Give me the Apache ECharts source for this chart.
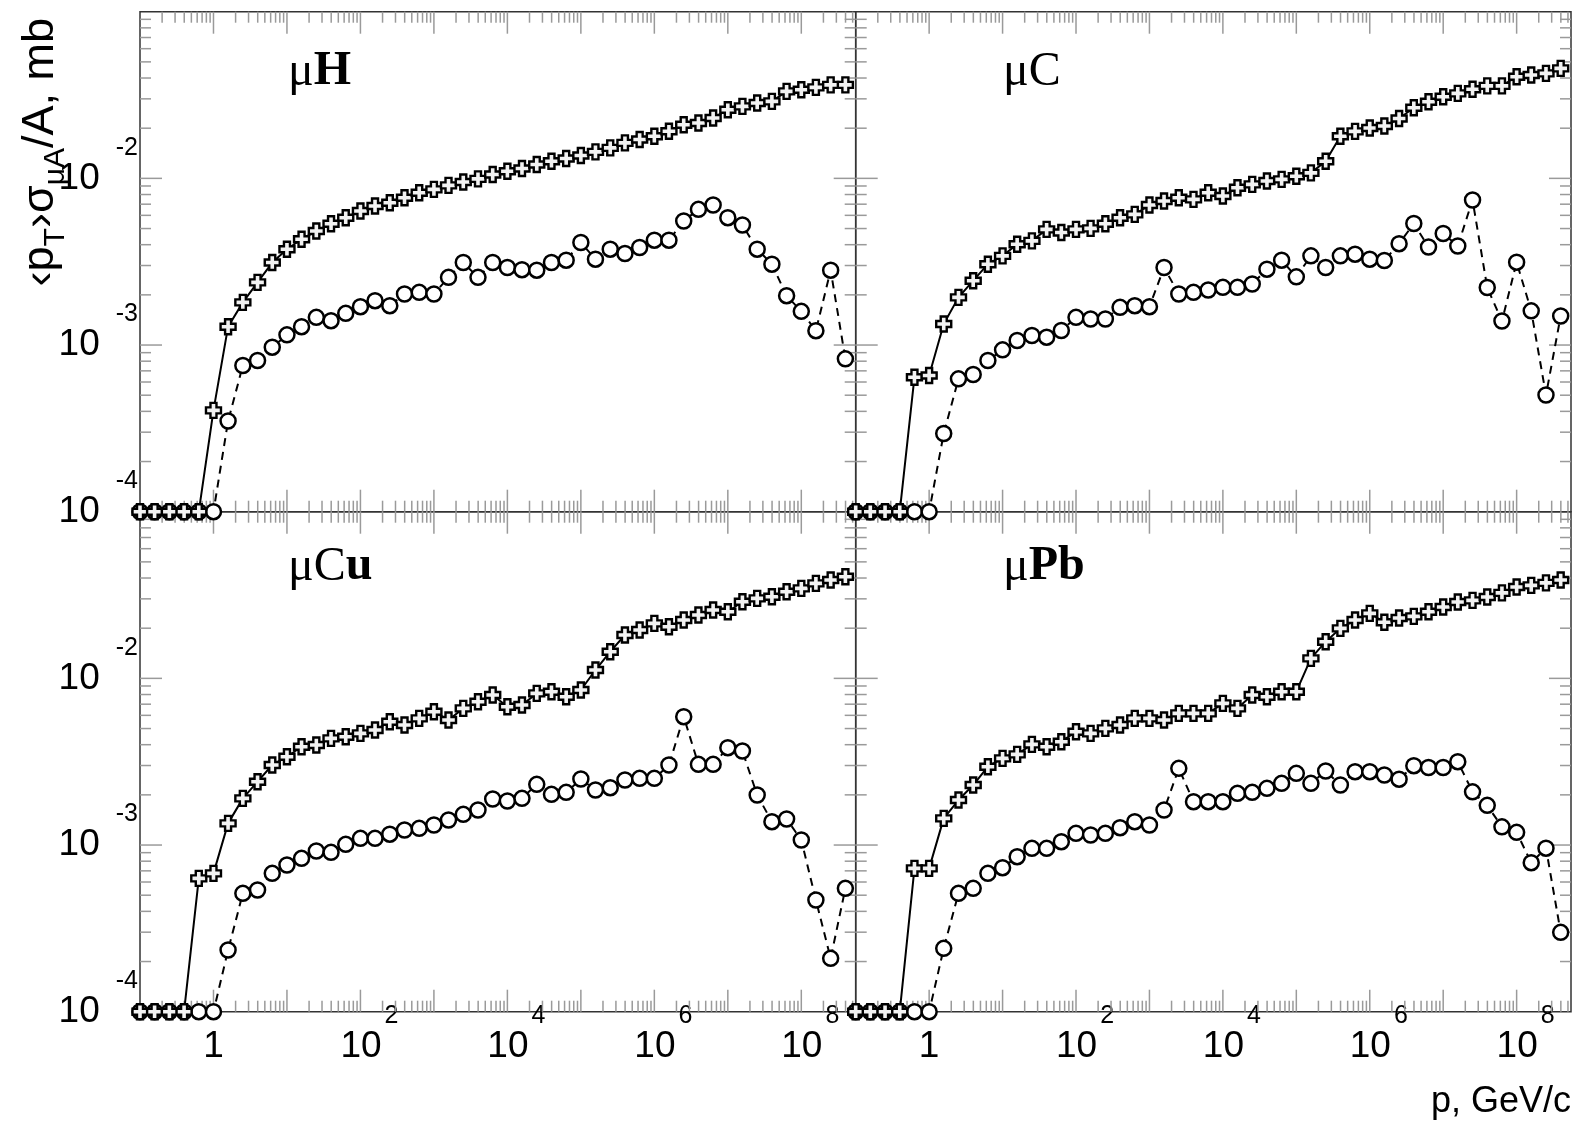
<!DOCTYPE html>
<html>
<head>
<meta charset="utf-8">
<script src="https://cdn.jsdelivr.net/npm/echarts@6/dist/echarts.min.js"></script>
<style>
html,body{margin:0;padding:0;background:#fff;}
#chart{width:1576px;height:1128px;}
</style>
</head>
<body>
<div id="chart"></div>
<script>
// momentum grid, GeV/c (5 points per decade)
const P = [0.1,0.158,0.251,0.398,0.631, 1,1.58,2.51,3.98,6.31, 10,15.8,25.1,39.8,63.1,
  100,158,251,398,631, 1e3,1.58e3,2.51e3,3.98e3,6.31e3, 1e4,1.58e4,2.51e4,3.98e4,6.31e4,
  1e5,1.58e5,2.51e5,3.98e5,6.31e5, 1e6,1.58e6,2.51e6,3.98e6,6.31e6, 1e7,1.58e7,2.51e7,3.98e7,6.31e7,
  1e8,1.58e8,2.51e8,3.98e8];

// log10 of <pT> sigma / A (mb); -4 = drawn on the lower edge
const muH_cross = [-4,-4,-4,-4,-4, -3.392,-2.890,-2.744,-2.624,-2.505,-2.425,-2.365,-2.316,-2.272,-2.236,-2.196,-2.166,-2.146,-2.116,-2.086,-2.066,-2.042,-2.022,-2.003,-1.977,-1.957,-1.941,-1.917,-1.897,-1.881,-1.863,-1.841,-1.817,-1.787,-1.767,-1.747,-1.717,-1.678,-1.668,-1.638,-1.588,-1.568,-1.548,-1.538,-1.478,-1.468,-1.454,-1.439,-1.439];
const muH_circle = [-4,-4,-4,-4,-4,-4, -3.456,-3.123,-3.093,-3.013,-2.939,-2.890,-2.834,-2.854,-2.810,-2.770,-2.734,-2.764,-2.694,-2.684,-2.694,-2.594,-2.505,-2.594,-2.505,-2.535,-2.548,-2.551,-2.505,-2.491,-2.385,-2.485,-2.425,-2.451,-2.415,-2.371,-2.371,-2.256,-2.186,-2.160,-2.236,-2.280,-2.425,-2.515,-2.704,-2.798,-2.914,-2.551,-3.083];
const muC_cross = [-4,-4,-4,-4, -3.193,-3.183,-2.874,-2.714,-2.614,-2.515,-2.465,-2.395,-2.375,-2.306,-2.325,-2.306,-2.300,-2.272,-2.236,-2.216,-2.160,-2.136,-2.116,-2.126,-2.086,-2.106,-2.056,-2.036,-2.016,-2.006,-1.987,-1.967,-1.897,-1.747,-1.718,-1.698,-1.686,-1.641,-1.576,-1.540,-1.510,-1.490,-1.465,-1.445,-1.445,-1.390,-1.380,-1.370,-1.340];
const muC_circle = [-4,-4,-4,-4,-4,-4, -3.531,-3.203,-3.177,-3.093,-3.029,-2.973,-2.943,-2.953,-2.913,-2.834,-2.844,-2.844,-2.774,-2.764,-2.770,-2.535,-2.694,-2.684,-2.670,-2.654,-2.654,-2.634,-2.545,-2.491,-2.591,-2.465,-2.535,-2.465,-2.455,-2.485,-2.493,-2.392,-2.271,-2.412,-2.331,-2.406,-2.130,-2.655,-2.856,-2.503,-2.795,-3.300,-2.826];
const muCu_cross = [-4,-4,-4,-4, -3.200,-3.170,-2.870,-2.720,-2.620,-2.520,-2.470,-2.410,-2.400,-2.360,-2.350,-2.330,-2.310,-2.260,-2.280,-2.240,-2.200,-2.250,-2.180,-2.140,-2.100,-2.170,-2.160,-2.090,-2.080,-2.110,-2.070,-1.950,-1.840,-1.740,-1.710,-1.670,-1.690,-1.650,-1.620,-1.590,-1.600,-1.540,-1.520,-1.510,-1.480,-1.460,-1.430,-1.410,-1.390];
const muCu_circle = [-4,-4,-4,-4,-4,-4, -3.630,-3.290,-3.270,-3.170,-3.120,-3.080,-3.036,-3.044,-2.996,-2.960,-2.960,-2.935,-2.910,-2.900,-2.880,-2.850,-2.816,-2.790,-2.724,-2.736,-2.720,-2.636,-2.696,-2.684,-2.604,-2.670,-2.656,-2.610,-2.600,-2.600,-2.520,-2.230,-2.516,-2.516,-2.416,-2.436,-2.700,-2.860,-2.844,-2.970,-3.330,-3.680,-3.260];
const muPb_cross = [-4,-4,-4,-4, -3.140,-3.140,-2.840,-2.730,-2.640,-2.530,-2.480,-2.456,-2.396,-2.410,-2.380,-2.320,-2.330,-2.300,-2.280,-2.240,-2.240,-2.250,-2.210,-2.210,-2.210,-2.150,-2.180,-2.100,-2.110,-2.080,-2.080,-1.880,-1.780,-1.700,-1.650,-1.610,-1.663,-1.638,-1.628,-1.600,-1.572,-1.542,-1.532,-1.512,-1.487,-1.452,-1.442,-1.427,-1.410];
const muPb_circle = [-4,-4,-4,-4,-4,-4, -3.620,-3.290,-3.260,-3.170,-3.136,-3.070,-3.020,-3.020,-2.980,-2.930,-2.940,-2.930,-2.896,-2.860,-2.880,-2.790,-2.540,-2.740,-2.740,-2.740,-2.690,-2.684,-2.660,-2.630,-2.570,-2.630,-2.556,-2.640,-2.560,-2.560,-2.580,-2.605,-2.524,-2.535,-2.535,-2.500,-2.681,-2.762,-2.891,-2.924,-3.106,-3.019,-3.524];

const PANELS = [
  {label: '{m|μ}{b|H}',   cross: muH_cross,  circle: muH_circle},
  {label: '{m|μC}',       cross: muC_cross,  circle: muC_circle},
  {label: '{m|μC}{b|u}',  cross: muCu_cross, circle: muCu_circle},
  {label: '{m|μ}{b|Pb}',  cross: muPb_cross, circle: muPb_circle}
];

const X_MIN = 0.1, X_MAX = 5.5e8, Y_MIN = 1e-4, Y_MAX = 0.1;

const chart = echarts.init(document.getElementById('chart'), null, {renderer: 'canvas'});

const L0 = 140, W0 = 715.7, L1 = 855.7, W1 = 715.3, T0 = 11.7, T1 = 511.7, H = 500;
const gridPos = [[L0,T0,W0],[L1,T0,W1],[L0,T1,W0],[L1,T1,W1]];
const FONT = 'Liberation Sans, Arial, Helvetica, sans-serif';
const SERIF = 'Liberation Serif, Times New Roman, serif';

function expOf(v){ const l = Math.log10(v); const e = Math.round(l); return Math.abs(l-e) < 1e-6 ? e : null; }

// tick values (decade structure of the log axes)
const tickData = [];
for (let n = -1; n <= 8; n++) for (let m = 1; m <= 9; m++) tickData.push([m*Math.pow(10,n), 1e-3, 0, m===1?1:0]);
for (let n = -4; n <= -2; n++) for (let m = 1; m <= 9; m++) tickData.push([1, m*Math.pow(10,n), 1, m===1?1:0]);
tickData.push([1, 0.1, 1, 1]);

const grids = [], xAxes = [], yAxes = [], series = [];
gridPos.forEach((g, i) => {
  grids.push({left: g[0], top: g[1], width: g[2], height: H, show: true, borderColor: '#333', borderWidth: 1.5, backgroundColor: 'transparent', containLabel: false});
  const bottomRow = i >= 2, leftCol = (i % 2) === 0;
  xAxes.push({
    type: 'log', logBase: 10, gridIndex: i, min: X_MIN, max: X_MAX, splitNumber: 5,
    axisLine: {show: false}, axisTick: {show: false}, splitLine: {show: false},
    axisLabel: {
      show: bottomRow, margin: -8, showMinLabel: false, showMaxLabel: false,
      formatter: function(v){ const e = expOf(v); if (e === null || e < 0 || e % 2) return ''; return e === 0 ? '{b|1}' : '{p|10}{s|' + e + '}'; },
      rich: {
        b: {fontFamily: FONT, fontSize: 37, lineHeight: 86, color: '#000'},
        p: {fontFamily: FONT, fontSize: 37, lineHeight: 86, color: '#000', padding: [0,0,0,18]},
        s: {fontFamily: FONT, fontSize: 25, lineHeight: 26, color: '#000', verticalAlign: 'top', padding: [0,0,0,3]}
      }
    }
  });
  yAxes.push({
    type: 'log', logBase: 10, gridIndex: i, min: Y_MIN, max: Y_MAX, splitNumber: 3,
    axisLine: {show: false}, axisTick: {show: false}, splitLine: {show: false},
    axisLabel: {
      show: leftCol, margin: 2, showMaxLabel: false,
      formatter: function(v){ const e = expOf(v); if (e === null || e === -1) return ''; return '{b|10}{s|' + e + '}'; },
      rich: {
        b: {fontFamily: FONT, fontSize: 37, lineHeight: 86, color: '#000'},
        s: {fontFamily: FONT, fontSize: 25, lineHeight: 25, color: '#000', verticalAlign: 'top', padding: [0,0,0,16]}
      }
    }
  });
  const pan = PANELS[i];
  series.push({
    type: 'custom', xAxisIndex: i, yAxisIndex: i, silent: true, clip: false, z: 1,
    dimensions: ['x','y','t','m'], encode: {x: 0, y: 1},
    data: tickData,
    renderItem: function(params, api){
      const cs = params.coordSys;
      const t = api.value(2), major = api.value(3);
      const len = major ? 22 : 11;
      const st = {stroke: '#9a9a9a', lineWidth: 1.5};
      if (t === 0) {
        const px = api.coord([api.value(0), 1e-3])[0];
        if (px < cs.x + 1 || px > cs.x + cs.width - 1) return null;
        return {type: 'group', children: [
          {type: 'line', shape: {x1: px, y1: cs.y + cs.height, x2: px, y2: cs.y + cs.height - len}, style: st},
          {type: 'line', shape: {x1: px, y1: cs.y, x2: px, y2: cs.y + len}, style: st}
        ]};
      } else {
        const py = api.coord([1, api.value(1)])[1];
        if (py < cs.y + 1 || py > cs.y + cs.height - 1) return null;
        return {type: 'group', children: [
          {type: 'line', shape: {x1: cs.x, y1: py, x2: cs.x + len, y2: py}, style: st},
          {type: 'line', shape: {x1: cs.x + cs.width, y1: py, x2: cs.x + cs.width - len, y2: py}, style: st}
        ]};
      }
    }
  });
  series.push({
    type: 'line', xAxisIndex: i, yAxisIndex: i, z: 3,
    data: P.map((x, k) => [x, Math.pow(10, pan.circle[k])]),
    symbol: 'circle', symbolSize: 15, showAllSymbol: true,
    itemStyle: {color: '#fff', borderColor: '#000', borderWidth: 2.5},
    lineStyle: {color: '#000', width: 2, type: [8, 6]}
  });
  series.push({
    type: 'line', xAxisIndex: i, yAxisIndex: i, z: 4,
    data: P.map((x, k) => [x, Math.pow(10, pan.cross[k])]),
    symbol: 'path://M3,0H7V3H10V7H7V10H3V7H0V3H3Z', symbolSize: 15, symbolKeepAspect: true, showAllSymbol: true,
    itemStyle: {color: '#f2f2f2', borderColor: '#000', borderWidth: 2.4},
    lineStyle: {color: '#000', width: 2}
  });
});

const labelPos = [[288, 72], [1003, 72], [288, 567], [1003, 567]];
const graphics = PANELS.map((p, i) => ({
  type: 'text', x: labelPos[i][0], y: labelPos[i][1], z: 10,
  style: {
    text: p.label, align: 'left', verticalAlign: 'middle',
    rich: {
      m: {fontFamily: SERIF, fontSize: 48, fill: '#000', fontWeight: 'normal'},
      b: {fontFamily: SERIF, fontSize: 48, fill: '#000', fontWeight: 'bold'}
    }
  }
}));
graphics.push({
  type: 'text', x: 41, y: 18, rotation: Math.PI / 2, z: 10,
  style: {
    text: '‹p{sub|T}›σ{sub|μA}/A, mb', align: 'right', verticalAlign: 'middle',
    fontFamily: FONT, fontSize: 45, lineHeight: 60, fill: '#000',
    rich: {sub: {fontFamily: FONT, fontSize: 30, lineHeight: 30, verticalAlign: 'bottom', fill: '#000'}}
  }
});
graphics.push({
  type: 'text', x: 1571, y: 1102, z: 10,
  style: {text: 'p, GeV/c', align: 'right', verticalAlign: 'middle', fontFamily: FONT, fontSize: 36, fill: '#000'}
});

chart.setOption({
  animation: false,
  backgroundColor: '#fff',
  grid: grids, xAxis: xAxes, yAxis: yAxes, series: series,
  graphic: graphics
});
</script>
</body>
</html>
